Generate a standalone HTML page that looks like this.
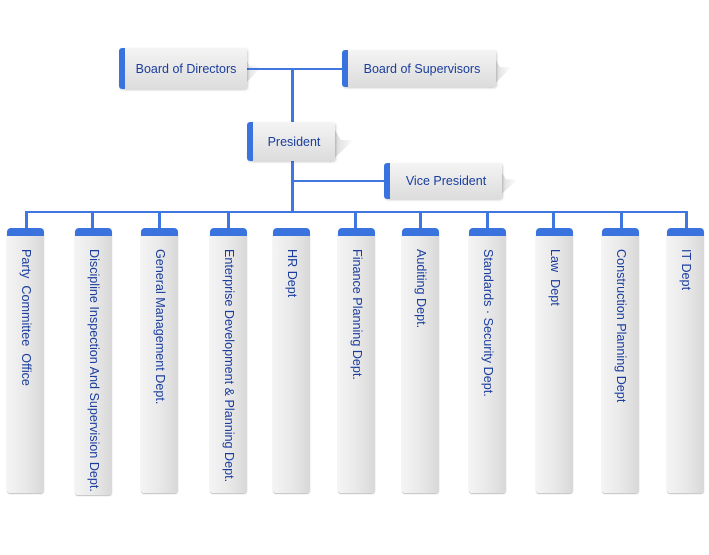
<!DOCTYPE html>
<html><head><meta charset="utf-8"><style>
body{margin:0;width:709px;height:555px;background:#fff;position:relative;overflow:hidden;font-family:"Liberation Sans",Arial,sans-serif}
.ln{position:absolute;background:#3f76e0}
.bx{position:absolute;background:linear-gradient(#f4f4f4,#dcdcdc);border-left:6px solid #3a72de;border-radius:3px;color:#1a3d9e;font-size:12.5px;box-sizing:border-box;display:flex;align-items:center;justify-content:center;box-shadow:1px 1px 2px rgba(0,0,0,.2)}
.sh{position:absolute;background:linear-gradient(90deg,rgba(0,0,0,.18),rgba(0,0,0,0));clip-path:polygon(0 0,45% 45%,100% 45%,0 100%)}
.col{position:absolute;top:228px;width:37px;background:linear-gradient(90deg,#f4f4f4,#e9e9e9 50%,#d8d8d8);border-radius:4px 4px 3px 3px;box-shadow:0 1px 1px rgba(0,0,0,.25)}
.col:before{content:"";position:absolute;left:0;right:0;top:0;height:8px;background:#3a72de;border-radius:4px 4px 0 0}
.col span{position:absolute;top:21px;left:0;width:37px;writing-mode:vertical-rl;color:#1a3d9e;font-size:12.6px;line-height:37px;white-space:nowrap}
</style></head><body>
<div class="sh" style="left:240px;top:48px;width:22px;height:41px"></div>
<div class="sh" style="left:490px;top:50px;width:22px;height:38px"></div>
<div class="sh" style="left:330px;top:122px;width:24px;height:40px"></div>
<div class="sh" style="left:496px;top:163px;width:22px;height:36px"></div>
<div class="ln" style="left:247px;top:68px;width:96px;height:2px"></div>
<div class="ln" style="left:291px;top:68px;width:3px;height:55px"></div>
<div class="ln" style="left:291px;top:161px;width:3px;height:51px"></div>
<div class="ln" style="left:293px;top:180px;width:92px;height:2px"></div>
<div class="ln" style="left:25px;top:211px;width:663px;height:2px"></div>
<div class="bx" style="left:119px;top:48px;width:128px;height:41px">Board of Directors</div>
<div class="bx" style="left:342px;top:50px;width:154px;height:37px">Board of Supervisors</div>
<div class="bx" style="left:247px;top:122px;width:88px;height:39px">President</div>
<div class="bx" style="left:384px;top:163px;width:118px;height:36px">Vice President</div>
<div class="ln" style="left:25px;top:211px;width:3px;height:17px"></div>
<div class="ln" style="left:91px;top:211px;width:3px;height:17px"></div>
<div class="ln" style="left:158px;top:211px;width:3px;height:17px"></div>
<div class="ln" style="left:227px;top:211px;width:3px;height:17px"></div>
<div class="ln" style="left:354px;top:211px;width:3px;height:17px"></div>
<div class="ln" style="left:419px;top:211px;width:3px;height:17px"></div>
<div class="ln" style="left:486px;top:211px;width:3px;height:17px"></div>
<div class="ln" style="left:552px;top:211px;width:3px;height:17px"></div>
<div class="ln" style="left:620px;top:211px;width:3px;height:17px"></div>
<div class="ln" style="left:685px;top:211px;width:3px;height:17px"></div>
<div class="col" style="left:7px;height:265px"><span>Party&nbsp; Committee&nbsp; Office</span></div>
<div class="col" style="left:75px;height:267px"><span>Discipline Inspection And Supervision Dept.</span></div>
<div class="col" style="left:141px;height:265px"><span>General Management Dept.</span></div>
<div class="col" style="left:210px;height:265px"><span>Enterprise Development &amp; Planning Dept.</span></div>
<div class="col" style="left:273px;height:265px"><span>HR Dept</span></div>
<div class="col" style="left:338px;height:265px"><span>Finance Planning Dept.</span></div>
<div class="col" style="left:402px;height:265px"><span>Auditing Dept.</span></div>
<div class="col" style="left:469px;height:265px"><span>Standards · Security Dept.</span></div>
<div class="col" style="left:536px;height:265px"><span>Law&nbsp; Dept</span></div>
<div class="col" style="left:602px;height:265px"><span>Construction Planning Dept</span></div>
<div class="col" style="left:667px;height:265px"><span>IT Dept</span></div>
</body></html>
